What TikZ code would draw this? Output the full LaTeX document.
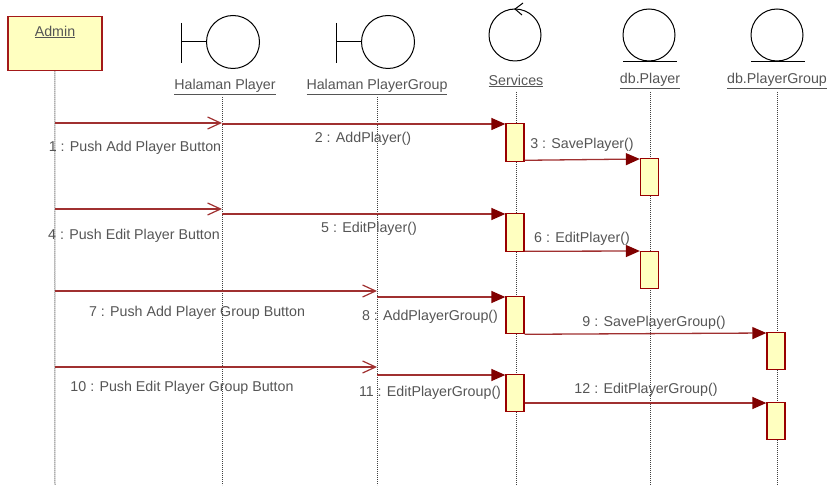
\documentclass[tikz,border=0pt]{standalone}
\usepackage{fontspec}
\setmainfont{Liberation Sans}
\usetikzlibrary{arrows.meta}
\definecolor{msg}{HTML}{A03030}
\definecolor{actb}{HTML}{990000}
\definecolor{actf}{HTML}{FFFFC0}
\definecolor{txt}{HTML}{555555}
\definecolor{headc}{HTML}{800000}
\begin{document}
\begin{tikzpicture}[x=1bp,y=-1bp,
  lbl/.style={font=\fontsize{14.3}{16}\selectfont, text=txt, inner sep=0pt},
  life/.style={draw=black!75, line width=1bp, dash pattern=on 1bp off 1bp},
  sym/.style={draw=black, line width=1bp},
  act/.style={draw=actb, fill=actf, line width=1.3bp, minimum width=18bp, inner sep=0pt, anchor=north},
  sync/.style={draw=msg, line width=1.3bp, -{Triangle[length=14bp, width=12bp, fill=headc, color=headc]}},
  flat/.style={draw=msg, line width=1.3bp, -{Straight Barb[length=13bp, width=12bp, line width=1.2bp, color=msg]}}
]
\useasboundingbox (0,0) rectangle (831,487);
% Admin actor box
\node[draw=actb!90, fill=actf, line width=1.5bp, minimum width=94bp, minimum height=54bp, inner sep=0pt, anchor=north west] (admin) at (7,16) {};
\node[lbl] (adminl) at (55,32) {\underline{Admin}};
% boundary: Halaman Player
\draw[sym] (181,23) -- (181,63);
\draw[sym] (181,42) -- (206,42);
\node[sym, circle, minimum size=53bp, inner sep=0pt] (hpc) at (233,42) {};
\node[lbl] (hpl) at (225,87) {\underline{Halaman Player}};
% boundary: Halaman PlayerGroup
\draw[sym] (336,23) -- (336,63);
\draw[sym] (336,42) -- (361,42);
\node[sym, circle, minimum size=53bp, inner sep=0pt] (hgc) at (388,42) {};
\node[lbl] (hgl) at (377,87) {\underline{Halaman PlayerGroup}};
% control: Services
\node[sym, circle, minimum size=52bp, inner sep=0pt] (svc) at (515,35) {};
\draw[sym] (523,3) -- (515,9) -- (522,15);
\node[lbl] (svl) at (516,81) {\underline{Services}};
% entity: db.Player
\node[sym, circle, minimum size=52bp, inner sep=0pt] (dpc) at (649,35) {};
\draw[sym] (623,61.5) -- (677,61.5);
\node[lbl] (dpl) at (650,81) {\underline{db.Player}};
% entity: db.PlayerGroup
\node[sym, circle, minimum size=52bp, inner sep=0pt] (dgc) at (777,35) {};
\draw[sym] (751,61.5) -- (805,61.5);
\node[lbl] (dgl) at (777,81) {\underline{db.PlayerGroup}};
% lifelines
\coordinate (L0e) at (55,485);
\coordinate (L1s) at (222,97); \coordinate (L1e) at (222,485);
\coordinate (L2s) at (377,97); \coordinate (L2e) at (377,485);
\coordinate (L3s) at (516,92); \coordinate (L3e) at (516,485);
\coordinate (L4s) at (650,92); \coordinate (L4e) at (650,485);
\coordinate (L5s) at (777,92); \coordinate (L5e) at (777,485);
\draw[life] (admin.south) -- (L0e);
\draw[life] (L1s) -- (L1e);
\draw[life] (L2s) -- (L2e);
\draw[life] (L3s) -- (L3e);
\draw[life] (L4s) -- (L4e);
\draw[life] (L5s) -- (L5e);
% activations
\node[act, minimum height=38bp] (s1) at (515,123) {};
\node[act, minimum height=37bp] (p1) at (649.5,158) {};
\node[act, minimum height=38bp] (s2) at (515,213) {};
\node[act, minimum height=37bp] (p2) at (649.5,251) {};
\node[act, minimum height=37bp] (s3) at (515,296) {};
\node[act, minimum height=37bp] (g1) at (776,332) {};
\node[act, minimum height=37bp] (s4) at (515,374) {};
\node[act, minimum height=37bp] (g2) at (776,402) {};
% message endpoints
\coordinate (m1a) at (55,123); \coordinate (m1b) at (222,123);
\coordinate (m2a) at (222,124);
\coordinate (m4a) at (55,209); \coordinate (m4b) at (222,209);
\coordinate (m5a) at (222,214);
\coordinate (m7a) at (55,291); \coordinate (m7b) at (377,291);
\coordinate (m8a) at (377,297);
\coordinate (m10a) at (55,367); \coordinate (m10b) at (377,367);
\coordinate (m11a) at (377,375);
% messages
\draw[flat] (m1a) -- (m1b);
\draw[sync] (m2a) -- (m2a -| s1.west);
\draw[sync] ([yshift=2bp]s1.south east) -- ([yshift=-1bp]p1.north west);
\draw[flat] (m4a) -- (m4b);
\draw[sync] (m5a) -- (m5a -| s2.west);
\draw[sync] ([yshift=1bp]s2.south east) -- ([yshift=0bp]p2.north west);
\draw[flat] (m7a) -- (m7b);
\draw[sync] (m8a) -- (m8a -| s3.west);
\draw[sync] ([yshift=0bp]s3.south east) -- ([yshift=-1bp]g1.north west);
\draw[flat] (m10a) -- (m10b);
\draw[sync] (m11a) -- (m11a -| s4.west);
\draw[sync] (s4.east |- 0,403) -- ([yshift=-1bp]g2.north west);
% labels
\node[lbl] (t1) at (135,148) {1 : Push Add Player Button};
\node[lbl] (t2) at (363,139) {2 : AddPlayer()};
\node[lbl] (t3) at (582,145) {3 : SavePlayer()};
\node[lbl] (t4) at (134,236) {4 : Push Edit Player Button};
\node[lbl] (t5) at (369,229) {5 : EditPlayer()};
\node[lbl] (t6) at (582,239) {6 : EditPlayer()};
\node[lbl] (t7) at (197,313) {7 : Push Add Player Group Button};
\node[lbl] (t8) at (430,317) {8 : AddPlayerGroup()};
\node[lbl] (t9) at (654,323) {9 : SavePlayerGroup()};
\node[lbl] (t10) at (182,388) {10 : Push Edit Player Group Button};
\node[lbl] (t11) at (430,393) {11 : EditPlayerGroup()};
\node[lbl] (t12) at (646,390) {12 : EditPlayerGroup()};
\end{tikzpicture}
\end{document}
